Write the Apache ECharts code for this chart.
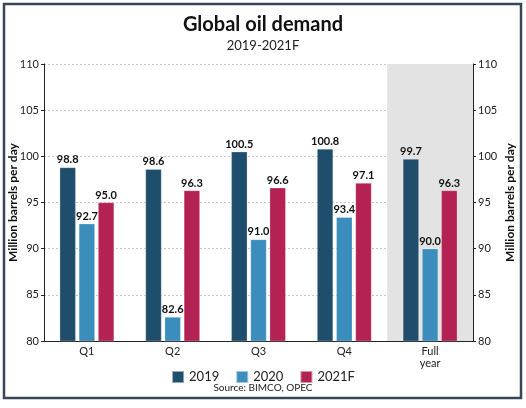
<!DOCTYPE html>
<html><head><meta charset="utf-8">
<script src="https://cdn.jsdelivr.net/npm/echarts@6/dist/echarts.min.js"></script>
<style>html,body{margin:0;padding:0;background:#fff}#c{width:526px;height:408px}</style>
</head><body><div id="c"></div>
<script>
const categories = ['Q1', 'Q2', 'Q3', 'Q4', 'Full\nyear'];
const s2019 = [98.8, 98.6, 100.5, 100.8, 99.7];
const s2020 = [92.7, 82.6, 91.0, 93.4, 90.0];
const s2021F = [95.0, 96.3, 96.6, 97.1, 96.3];
const seriesNames = ['2019', '2020', '2021F'];
const colors = ['#1f4e6d', '#3b8ebb', '#b32252'];

const chart = echarts.init(document.getElementById('c'), null, {renderer: 'canvas'});
const font = 'Lato, "Noto Sans", sans-serif';
const labelCfg = {show: true, position: 'top', distance: 2, color: '#111', fontSize: 11, fontWeight: 'bold', fontFamily: font, formatter: p => p.value.toFixed(1)};
function mk(name, data, i) {
  return {name, type: 'bar', data, barWidth: 16, barGap: '20%', itemStyle: {color: colors[i], borderColor: 'rgba(255,255,255,0.5)', borderWidth: 0.5}, label: labelCfg};
}
const yCommon = {
  type: 'value', min: 80, max: 110, interval: 5,
  nameLocation: 'middle', nameMoveOverlap: false, nameTextStyle: {fontSize: 12, fontWeight: 'bold', color: '#111', fontFamily: font},
  axisLine: {show: true, lineStyle: {color: '#222', width: 1}},
  axisTick: {show: true, length: 3, lineStyle: {color: '#222'}},
  axisLabel: {color: '#222', fontSize: 11, fontFamily: font, margin: 5}
};
chart.setOption({
  animation: false,
  title: {text: 'Global oil demand', subtext: '2019-2021F', left: 'center', top: 10, itemGap: 4,
    textStyle: {fontSize: 20, fontWeight: 'bold', color: '#111', fontFamily: font},
    subtextStyle: {fontSize: 13, color: '#222', fontFamily: font}},
  graphic: [
    {type: 'rect', shape: {x: 4, y: 4, width: 517, height: 394}, style: {fill: 'none', stroke: '#3a4655', lineWidth: 2.5}, z: 100},
    {type: 'text', left: 'center', top: 383, style: {text: 'Source: BIMCO, OPEC', fontSize: 10, fill: '#222', fontFamily: font}}
  ],
  legend: {top: 365, left: 'center', itemWidth: 12, itemHeight: 12, itemGap: 16, icon: 'rect',
    textStyle: {fontSize: 13, color: '#222', fontFamily: font}, data: seriesNames},
  grid: {left: 44, right: 53, top: 64, bottom: 67, containLabel: false, outerBoundsMode: 'none'},
  xAxis: {type: 'category', data: categories,
    axisLine: {lineStyle: {color: '#222'}}, axisTick: {show: false},
    axisLabel: {color: '#222', fontSize: 11, fontFamily: font, margin: 4, lineHeight: 12},
    splitArea: {show: true, areaStyle: {color: ['rgba(0,0,0,0)', 'rgba(0,0,0,0)', 'rgba(0,0,0,0)', 'rgba(0,0,0,0)', '#e3e3e3']}}},
  yAxis: [
    Object.assign({}, yCommon, {name: 'Million barrels per day', position: 'left', nameGap: 25,
      splitLine: {show: true, lineStyle: {color: '#c8c8c8', type: [2, 2]}}}),
    Object.assign({}, yCommon, {name: 'Million barrels per day', position: 'right', nameRotate: 90, nameGap: 31,
      splitLine: {show: false}})
  ],
  series: [mk(seriesNames[0], s2019, 0), mk(seriesNames[1], s2020, 1), mk(seriesNames[2], s2021F, 2)]
});
</script></body></html>
